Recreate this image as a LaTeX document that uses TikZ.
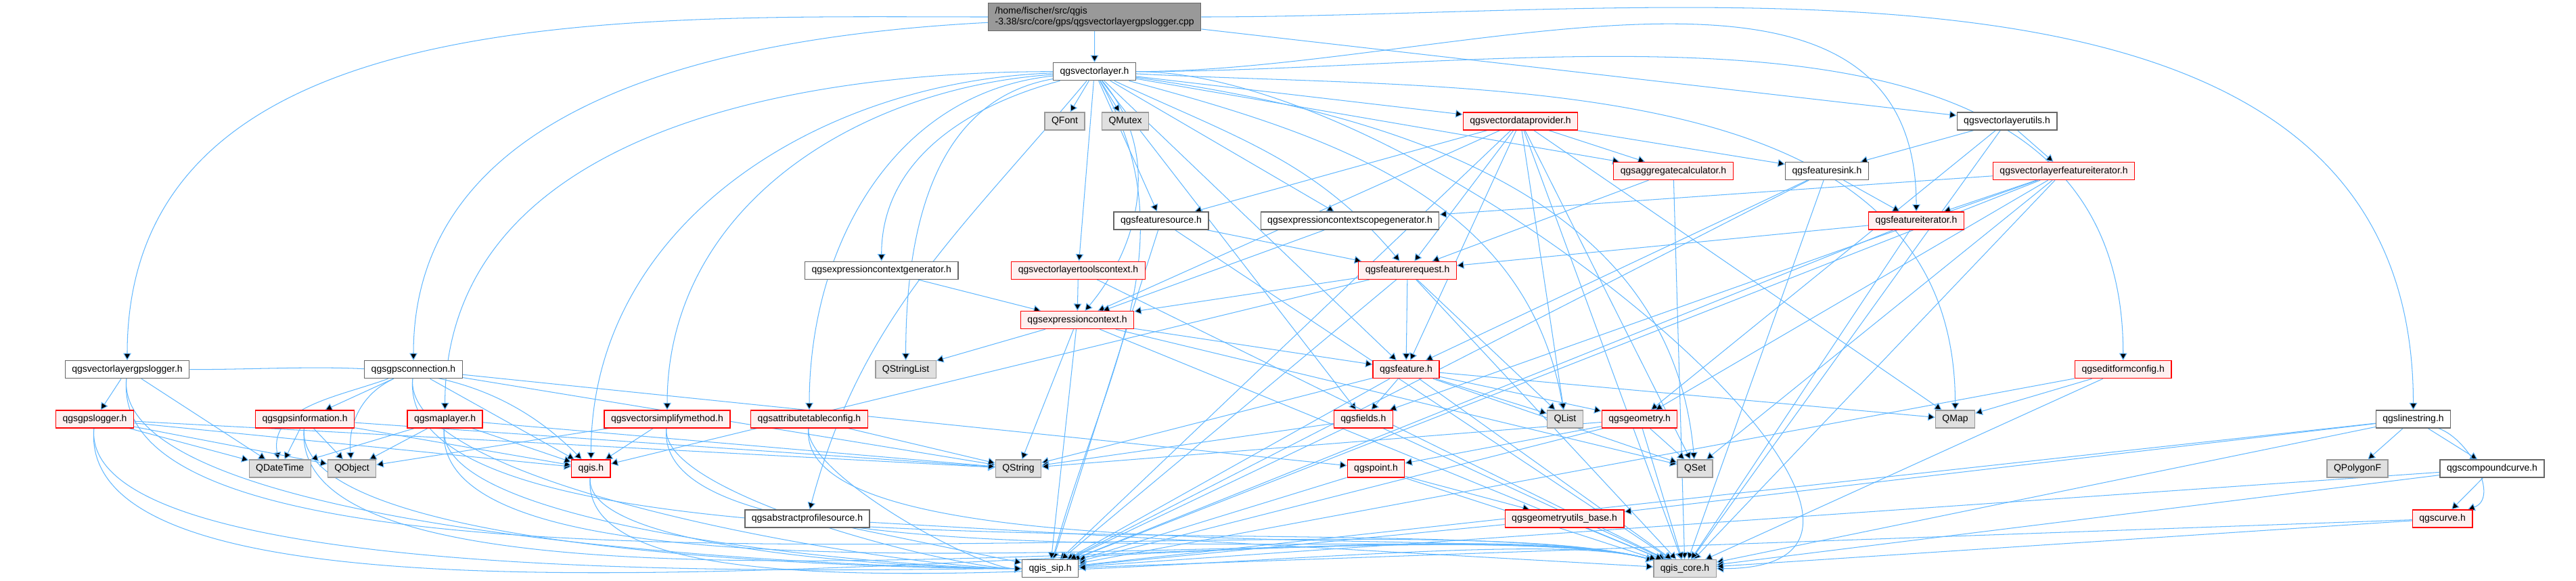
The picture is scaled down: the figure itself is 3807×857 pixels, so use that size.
\documentclass[tikz,border=0pt]{standalone}
\usepackage{fontspec}
\setmainfont{Liberation Sans}
\usetikzlibrary{arrows.meta,backgrounds}
\definecolor{edgeblue}{HTML}{63B8FF}
\definecolor{truncfill}{HTML}{FFF0F0}
\definecolor{qtfill}{HTML}{E0E0E0}
\definecolor{qtline}{HTML}{999999}
\definecolor{doxline}{HTML}{666666}
\begin{document}
\begin{tikzpicture}[x=0.25pt,y=-0.25pt,
  box/.style={draw=doxline,fill=white,line width=0.33pt,minimum height=6.5pt,inner xsep=2.5pt,inner ysep=0pt,font=\fontsize{3.5}{4.1}\selectfont},
  trunc/.style={box,draw=red,fill=truncfill},
  qtbox/.style={box,draw=qtline,fill=qtfill},
  srcbox/.style={box,fill=qtline,align=left,minimum height=10.2pt},
  dep/.style={draw=edgeblue,line width=0.26pt,-{Triangle[length=2.6pt,width=2.9pt]}},
  low/.style={out=-95,in=180,looseness=0.45},
  lowcore/.style={out=-95,in=165,looseness=0.45}]
	\useasboundingbox (0,0) rectangle (3807,857);
	\node[srcbox] (cpp) at (1617.7,25) {/home/fischer/src/qgis\\-3.38/src/core/gps/qgsvectorlayergpslogger.cpp};
	\node[box] (vl) at (1617.5,105.7) {qgsvectorlayer.h};
	\node[qtbox] (qfont) at (1573.5,179) {QFont};
	\node[qtbox] (qmutex) at (1663,179) {QMutex};
	\node[trunc] (vdp) at (2247,179) {qgsvectordataprovider.h};
	\node[box] (vlu) at (2966,179) {qgsvectorlayerutils.h};
	\node[trunc] (agg) at (2473,252.5) {qgsaggregatecalculator.h};
	\node[box] (sink) at (2700,252.5) {qgsfeaturesink.h};
	\node[trunc] (vlfi) at (3050,252.5) {qgsvectorlayerfeatureiterator.h};
	\node[box] (fsrc) at (1716,326) {qgsfeaturesource.h};
	\node[box] (scopegen) at (1995,326) {qgsexpressioncontextscopegenerator.h};
	\node[trunc] (fit) at (2832,326) {qgsfeatureiterator.h};
	\node[box] (ctxgen) at (1302.7,399.3) {qgsexpressioncontextgenerator.h};
	\node[trunc] (vltc) at (1593.5,399.3) {qgsvectorlayertoolscontext.h};
	\node[trunc] (freq) at (2080,399.3) {qgsfeaturerequest.h};
	\node[trunc] (ectx) at (1592,472.6) {qgsexpressioncontext.h};
	\node[box] (vlgps) at (188,545.7) {qgsvectorlayergpslogger.h};
	\node[box] (gpsc) at (611,545.7) {qgsgpsconnection.h};
	\node[qtbox] (qsl) at (1338.6,545.7) {QStringList};
	\node[trunc] (feat) at (2078,545.7) {qgsfeature.h};
	\node[trunc] (efc) at (3137.7,545.7) {qgseditformconfig.h};
	\node[trunc] (gpsl) at (140,619) {qgsgpslogger.h};
	\node[trunc] (gpsi) at (450.6,619) {qgsgpsinformation.h};
	\node[trunc] (ml) at (657.6,619) {qgsmaplayer.h};
	\node[trunc] (vsm) at (986,619) {qgsvectorsimplifymethod.h};
	\node[trunc] (atc) at (1196,619) {qgsattributetableconfig.h};
	\node[trunc] (flds) at (2014.8,619) {qgsfields.h};
	\node[qtbox] (qlist) at (2313,619) {QList};
	\node[trunc] (geom) at (2423,619) {qgsgeometry.h};
	\node[qtbox] (qmap) at (2889.5,619) {QMap};
	\node[box] (ls) at (3566.5,619) {qgslinestring.h};
	\node[qtbox] (qdt) at (413.7,692) {QDateTime};
	\node[qtbox] (qobj) at (520,692) {QObject};
	\node[trunc] (qgis) at (873.4,692) {qgis.h};
	\node[qtbox] (qstr) at (1505,692) {QString};
	\node[trunc] (pt) at (2033.5,692) {qgspoint.h};
	\node[qtbox] (qset) at (2505,692) {QSet};
	\node[qtbox] (qpf) at (3484,692) {QPolygonF};
	\node[box] (cc) at (3683,692) {qgscompoundcurve.h};
	\node[box] (aps) at (1193,766) {qgsabstractprofilesource.h};
	\node[trunc] (gub) at (2312,766) {qgsgeometryutils\_base.h};
	\node[trunc] (crv) at (3609.6,766) {qgscurve.h};
	\node[box] (sip) at (1552,839.7) {qgis\_sip.h};
	\node[qtbox] (core) at (2490,839.7) {qgis\_core.h};
	\begin{pgfonlayer}{background}
	\path[dep] (cpp) edge (vl) edge (vlu)
		edge[out=180,in=90] (vlgps) edge[out=183,in=90] (gpsc) edge[out=0,in=90] (ls);
	\path[dep] (vl) edge (qfont) edge (qmutex) edge (vltc) edge (fsrc) edge (scopegen) edge (vdp) edge (agg) edge (feat) edge (flds)
		edge[out=180,in=90] (ml) edge[out=182,in=90] (qgis) edge[out=184,in=90] (vsm) edge[out=186,in=90] (atc)
		edge[out=190,in=90] (qsl) edge[out=195,in=90] (ctxgen) edge[out=-130,in=75] (aps)
		edge[out=-25,in=130] (freq) edge[out=-50,in=50] (ectx) edge[out=-60,in=75] (sip)
		edge[out=-15,in=100] (qlist) edge[out=-8,in=95] (qset) edge[out=-3,in=90] (qmap)
		edge[out=0,in=90] (fit) edge[out=0,in=90] (efc) edge[out=0,in=0] (core);
	\path[dep] (vlgps) edge (gpsl) edge (qdt) edge[out=0,in=135] (qgis) edge[low] (sip) edge[lowcore] (core);
	\path[dep] (gpsc) edge (gpsi) edge[out=200,in=100] (qdt) edge[out=205,in=95] (qobj) edge (qgis) edge (qstr) edge (pt)
		edge[low] (sip) edge[lowcore] (core);
	\path[dep] (gpsl) edge (qdt) edge (qobj) edge (qgis) edge (qstr) edge[low] (sip) edge[lowcore] (core);
	\path[dep] (gpsi) edge (qdt) edge (qobj) edge (qgis) edge (qstr) edge[low] (sip) edge[lowcore] (core);
	\path[dep] (ml) edge (qdt) edge (qobj) edge (qgis) edge (qstr) edge[low] (sip) edge[lowcore] (core);
	\path[dep] (vsm) edge (qobj) edge (qgis) edge[low] (sip) edge[lowcore] (core);
	\path[dep] (atc) edge (qstr) edge[low] (sip) edge[lowcore] (core);
	\path[dep] (qgis) edge[low] (sip) edge[lowcore] (core);
	\path[dep] (aps) edge (sip) edge (core);
	\path[dep] (vlu) edge (sink) edge (vlfi) edge (geom) edge (core);
	\path[dep] (vdp) edge (fsrc) edge (ectx) edge (freq) edge (feat) edge (qlist) edge (qset) edge (agg) edge (sink)
		edge (qmap) edge (core) edge (sip);
	\path[dep] (vlfi) edge (fit) edge (scopegen) edge (flds) edge (geom) edge (qset) edge (core) edge (sip);
	\path[dep] (sink) edge (fit) edge (feat) edge (core) edge (sip);
	\path[dep] (agg) edge (freq) edge (core);
	\path[dep] (fsrc) edge (freq) edge (core) edge (sip);
	\path[dep] (scopegen) edge (ectx);
	\path[dep] (fit) edge (freq) edge (core) edge (sip);
	\path[dep] (ctxgen) edge (ectx);
	\path[dep] (vltc) edge (ectx) edge (core);
	\path[dep] (freq) edge (feat) edge (ectx) edge (qlist) edge (qgis) edge (core) edge (sip);
	\path[dep] (ectx) edge (qsl) edge (qstr) edge (feat) edge (qset) edge (core) edge (sip);
	\path[dep] (feat) edge (flds) edge (qlist) edge (geom) edge (qmap) edge (qset) edge (qstr) edge (core) edge (sip);
	\path[dep] (flds) edge (qstr) edge (core) edge (sip);
	\path[dep] (geom) edge (qset) edge (pt) edge (qstr) edge (core) edge (sip);
	\path[dep] (pt) edge (gub) edge (core) edge (sip);
	\path[dep] (gub) edge (core) edge (sip);
	\path[dep] (efc) edge (qmap) edge (core) edge (sip);
	\path[dep] (ls) edge (qpf) edge (cc) edge[out=-20,in=20] (crv) edge (gub) edge (core) edge (sip);
	\path[dep] (cc) edge (crv) edge (core) edge (sip);
	\path[dep] (crv) edge (core) edge (sip);
	\end{pgfonlayer}
\end{tikzpicture}
\end{document}
